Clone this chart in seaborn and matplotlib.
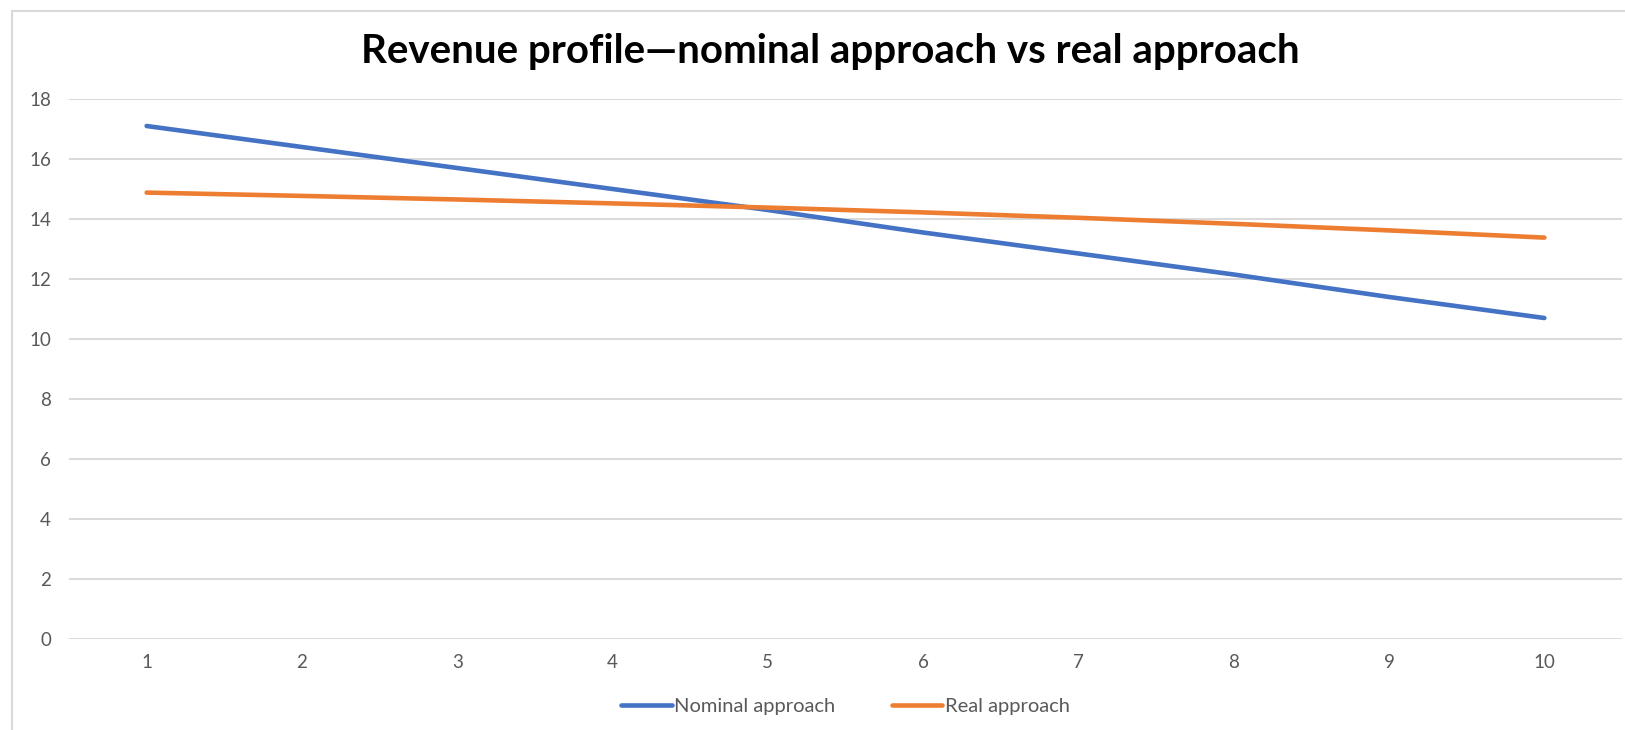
import pandas as pd
import matplotlib.pyplot as plt
import seaborn as sns
from matplotlib.patches import Rectangle

# Valeurs
years = [1, 2, 3, 4, 5, 6, 7, 8, 9, 10]
nominal = [17.1, 16.4, 15.7, 15.0, 14.3, 13.55, 12.85, 12.15, 11.4, 10.7]
real = [14.88, 14.77, 14.65, 14.52, 14.38, 14.22, 14.04, 13.84, 13.62, 13.38]
series_names = ["Nominal approach", "Real approach"]
y_ticks = [0, 2, 4, 6, 8, 10, 12, 14, 16, 18]

df = pd.DataFrame({
    "Year": years * 2,
    "Revenue": nominal + real,
    "Series": [series_names[0]] * len(years) + [series_names[1]] * len(years),
})

sns.set_style("white")
plt.rcParams["font.family"] = ["Lato", "DejaVu Sans"]

fig = plt.figure(figsize=(16.25, 7.3), dpi=100)
ax = fig.add_axes([69 / 1625, 1 - 639 / 730, (1622 - 69) / 1625, (639 - 99) / 730])

sns.lineplot(data=df, x="Year", y="Revenue", hue="Series",
             palette=["#4472C4", "#ED7D31"], linewidth=3.3,
             solid_capstyle="round", ax=ax)

ax.set_xlim(0.5, 10.5)
ax.set_ylim(0, 18)
ax.set_xticks(years)
ax.set_yticks(y_ticks)
ax.set_xlabel("")
ax.set_ylabel("")
ax.grid(axis="y", color="#D9D9D9", linewidth=1.4)
ax.set_axisbelow(True)
for s in ax.spines.values():
    s.set_visible(False)
ax.tick_params(length=0, labelsize=13.5, labelcolor="#595959")
ax.tick_params(axis="y", pad=13)
ax.tick_params(axis="x", pad=11)

ax.legend(loc="center", bbox_to_anchor=(0.5, -0.125), ncol=2, frameon=False,
          fontsize=14.5, handlelength=2.5, handletextpad=0.12,
          columnspacing=2.8, labelcolor="#595959")

fig.text(830 / 1625, 1 - 52 / 730, "Revenue profile\u2014nominal approach vs real approach",
         ha="center", va="center", fontsize=29, fontweight="bold", color="black")

# bordure du graphique
fig.patches.append(Rectangle((12 / 1625, -0.1), 1.0, (730 - 11) / 730 + 0.1,
                             transform=fig.transFigure, fill=False,
                             edgecolor="#D9D9D9", linewidth=1.5))

fig.savefig("out.png", dpi=100)
